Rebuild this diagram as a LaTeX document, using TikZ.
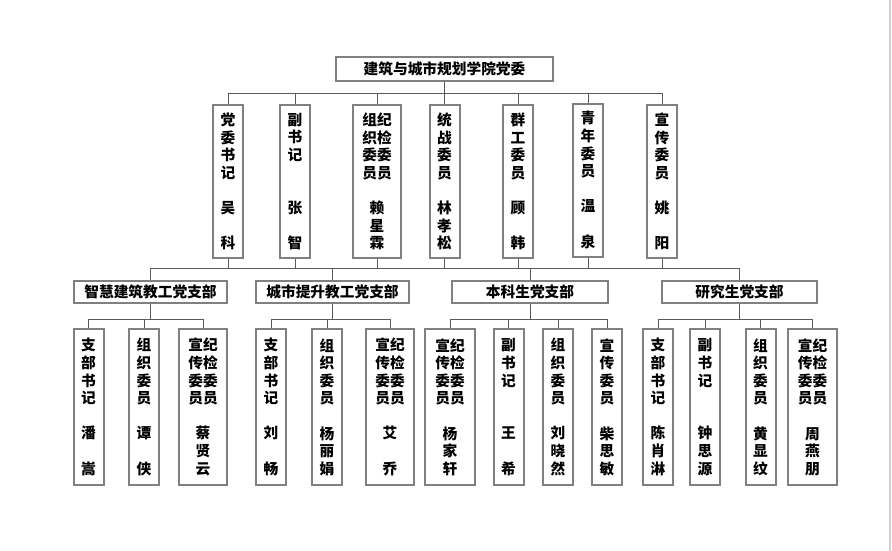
\documentclass[tikz,border=0pt]{standalone}
\usepackage{fontspec}
\newfontfamily\cjk{Noto Sans CJK SC}
\usetikzlibrary{positioning}

\tikzset{
  box/.style={draw=black!50,line width=2pt,inner sep=0pt,align=center,
    font=\cjk\bfseries\fontsize{14.7}{17.6}\selectfont},
  topbox/.style={box,minimum width=217pt,minimum height=24pt},
  branchbox/.style={box,minimum width=153pt,minimum height=22pt},
  postbox/.style={box,minimum width=30pt,minimum height=153pt},
  widebox/.style={postbox,minimum width=48pt},
  link/.style={draw=black!65,line width=1pt}
}

\begin{document}
\begin{tikzpicture}[x=1pt,y=-1pt]
\useasboundingbox (0,0) rectangle (892,551);
\draw [black!18,line width=2pt] (890,0) -- (890,551);
% party committee
\node (top) [topbox] at (444.5,69) {建筑与城市规划学院党委};
\node (m1) [postbox] at (228,181.5) {党\\委\\书\\记\\~\\吴\\~\\科};
\node (m2) [postbox] at (295,181.5) {副\\书\\记\\~\\~\\张\\~\\智};
\node (m3) [widebox] at (377,181.5) {组纪\\织检\\委委\\员员\\~\\赖\\星\\霖};
\node (m4) [postbox] at (444.5,181.5) {统\\战\\委\\员\\~\\林\\孝\\松};
\node (m5) [postbox] at (518,181.5) {群\\工\\委\\员\\~\\顾\\~\\韩};
\node (m6) [postbox] at (588,180) {青\\年\\委\\员\\~\\温\\~\\泉};
\node (m7) [postbox] at (662,181.5) {宣\\传\\委\\员\\~\\姚\\~\\阳};
\foreach \m in {m1,m2,m3,m4,m5,m6,m7}
  \draw [link] (top.south) -- ++(0,12) -| (\m.north);
% branches
\coordinate (bus) at (444.5,268);
\node (b1) [branchbox] at (150.5,292) {智慧建筑教工党支部};
\node (b2) [branchbox] at (332.5,292) {城市提升教工党支部};
\node (b3) [branchbox,minimum width=156pt] at (530,292) {本科生党支部};
\node (b4) [branchbox,minimum width=155pt] at (739.5,292) {研究生党支部};
\foreach \m in {m1,m2,m3,m4,m5,m6,m7}
  \draw [link] (\m.south) -- (\m.south |- bus);
\foreach \b in {b1,b2,b3,b4}
  \draw [link] (\b.north) |- (bus);
% branch members
\node (l1) [postbox,minimum height=156pt] at (88.5,407) {支\\部\\书\\记\\~\\潘\\~\\嵩};
\node (l2) [postbox,minimum height=156pt] at (144,407) {组\\织\\委\\员\\~\\谭\\~\\侠};
\node (l3) [widebox,minimum height=156pt] at (203,407) {宣纪\\传检\\委委\\员员\\~\\蔡\\贤\\云};
\node (l4) [postbox,minimum height=156pt] at (271,407) {支\\部\\书\\记\\~\\刘\\~\\畅};
\node (l5) [postbox,minimum height=156pt] at (327,407) {组\\织\\委\\员\\~\\杨\\丽\\娟};
\node (l6) [widebox,minimum height=156pt] at (390,407) {宣纪\\传检\\委委\\员员\\~\\艾\\~\\乔};
\node (l7) [widebox,minimum height=156pt,minimum width=50pt] at (450,407) {宣纪\\传检\\委委\\员员\\~\\杨\\家\\轩};
\node (l8) [postbox,minimum height=156pt] at (508.5,407) {副\\书\\记\\~\\~\\王\\~\\希};
\node (l9) [postbox,minimum height=156pt] at (558,407) {组\\织\\委\\员\\~\\刘\\晓\\然};
\node (l10) [postbox,minimum height=156pt] at (607,407) {宣\\传\\委\\员\\~\\柴\\思\\敏};
\node (l11) [postbox,minimum height=156pt] at (658,407) {支\\部\\书\\记\\~\\陈\\肖\\淋};
\node (l12) [postbox,minimum height=156pt] at (705,407) {副\\书\\记\\~\\~\\钟\\思\\源};
\node (l13) [postbox,minimum height=156pt] at (760.5,407) {组\\织\\委\\员\\~\\黄\\显\\纹};
\node (l14) [widebox,minimum height=156pt,minimum width=49pt] at (812.5,407) {宣纪\\传检\\委委\\员员\\~\\周\\燕\\朋};
\foreach \l in {l1,l2,l3}
  \draw [link] (b1.south) -- ++(0,15) -| (\l.north);
\foreach \l in {l4,l5,l6}
  \draw [link] (b2.south) -- ++(0,15) -| (\l.north);
\foreach \l in {l7,l8,l9,l10}
  \draw [link] (b3.south) -- ++(0,15) -| (\l.north);
\foreach \l in {l11,l12,l13,l14}
  \draw [link] (b4.south) -- ++(0,15) -| (\l.north);
\end{tikzpicture}
\end{document}
